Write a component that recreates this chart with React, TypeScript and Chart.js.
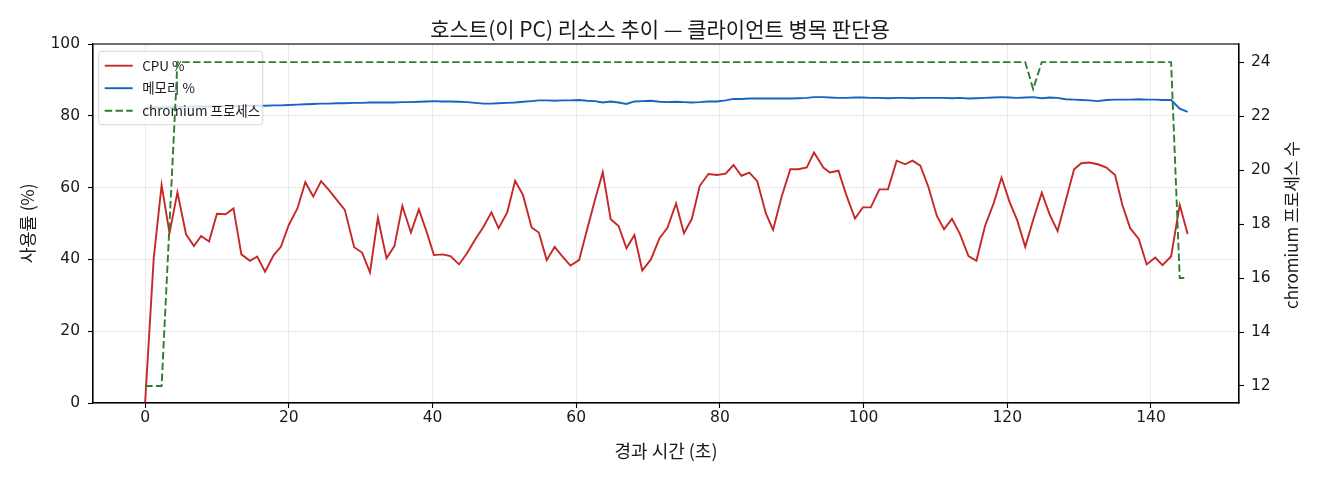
import { useEffect, useRef } from 'react';
import { Chart, registerables } from 'chart.js';

Chart.register(...registerables);

// elapsed seconds of each sample
const times = [
  0, 1.2, 2.3, 3.4, 4.5, 5.7, 6.8, 7.8, 8.9, 10.0,
  11.2, 12.3, 13.4, 14.6, 15.6, 16.7, 17.9, 18.9, 20.0, 21.2,
  22.3, 23.4, 24.5, 25.6, 26.7, 27.8, 29.1, 30.2, 31.3, 32.4,
  33.6, 34.7, 35.8, 37.0, 38.1, 39.2, 40.2, 41.4, 42.5, 43.7,
  44.8, 45.9, 47.1, 48.2, 49.2, 50.4, 51.5, 52.6, 53.8, 54.8,
  55.9, 57.0, 58.1, 59.2, 60.4, 61.5, 62.6, 63.7, 64.8, 65.9,
  67.0, 68.1, 69.2, 70.4, 71.6, 72.7, 73.9, 75.0, 76.1, 77.2,
  78.4, 79.6, 80.8, 81.9, 83.0, 84.1, 85.2, 86.4, 87.4, 88.6,
  89.8, 90.9, 92.1, 93.1, 94.4, 95.3, 96.5, 97.6, 98.8, 99.9,
  101.0, 102.2, 103.4, 104.6, 105.8, 106.8, 107.9, 109.0, 110.2, 111.2,
  112.3, 113.4, 114.6, 115.7, 116.9, 118.1, 119.2, 120.3, 121.4, 122.5,
  123.6, 124.8, 125.9, 127.0, 128.1, 129.3, 130.3, 131.4, 132.6, 133.8,
  135.0, 136.0, 137.1, 138.3, 139.4, 140.6, 141.6, 142.8, 144.0, 145.1,
];

const cpuPct = [
  0, 40.3, 60.7, 47.3, 58.7, 47.0, 43.7, 46.5, 45.0, 52.7,
  52.6, 54.2, 41.4, 39.6, 40.8, 36.6, 41.2, 43.5, 49.6, 54.2,
  61.5, 57.5, 61.8, 59.3, 56.5, 53.8, 43.4, 41.9, 36.4, 51.6,
  40.3, 43.7, 54.9, 47.5, 53.9, 47.6, 41.2, 41.4, 40.9, 38.6,
  41.7, 45.4, 49.1, 53.1, 48.7, 53.1, 61.9, 57.9, 48.9, 47.5,
  39.8, 43.5, 40.8, 38.3, 39.8, 48.2, 56.5, 64.3, 51.2, 49.3,
  43.1, 46.8, 36.9, 40.0, 45.9, 48.8, 55.6, 47.3, 51.3, 60.5,
  63.8, 63.5, 63.9, 66.3, 63.3, 64.2, 61.8, 52.8, 48.2, 57.5,
  65.1, 65.1, 65.6, 69.8, 65.6, 64.2, 64.7, 57.9, 51.4, 54.5,
  54.5, 59.5, 59.5, 67.5, 66.5, 67.5, 66.1, 60.3, 52.1, 48.4,
  51.3, 47.1, 40.9, 39.6, 49.3, 55.6, 62.8, 56.1, 50.8, 43.5,
  51.0, 58.6, 52.5, 47.9, 56.1, 65.1, 66.8, 67.0, 66.5, 65.6,
  63.5, 55.3, 48.7, 45.7, 38.6, 40.5, 38.4, 40.8, 55.2, 47.1,
];

const memPct = [
  82.2, 82.3, 82.4, 82.4, 82.5, 82.5, 82.6, 82.6, 82.6, 82.7,
  82.7, 82.7, 82.8, 82.8, 82.8, 82.8, 82.9, 82.9, 83.0, 83.1,
  83.2, 83.3, 83.4, 83.4, 83.5, 83.5, 83.6, 83.6, 83.7, 83.7,
  83.7, 83.7, 83.8, 83.8, 83.9, 84.0, 84.1, 84.0, 84.0, 83.9,
  83.8, 83.6, 83.4, 83.4, 83.5, 83.6, 83.7, 83.9, 84.1, 84.3,
  84.3, 84.2, 84.3, 84.3, 84.4, 84.2, 84.1, 83.7, 84.0, 83.7,
  83.3, 84.0, 84.1, 84.2, 83.9, 83.8, 83.9, 83.8, 83.7, 83.8,
  84.0, 84.0, 84.3, 84.7, 84.7, 84.8, 84.8, 84.8, 84.8, 84.8,
  84.8, 84.9, 85.0, 85.2, 85.2, 85.1, 85.0, 85.0, 85.1, 85.1,
  85.0, 85.0, 84.9, 85.0, 85.0, 84.9, 85.0, 85.0, 85.0, 85.0,
  84.9, 85.0, 84.8, 84.9, 85.0, 85.1, 85.2, 85.1, 85.0, 85.1,
  85.2, 84.9, 85.1, 85.0, 84.6, 84.5, 84.4, 84.3, 84.1, 84.4,
  84.5, 84.5, 84.5, 84.6, 84.5, 84.5, 84.4, 84.4, 82.0, 81.1,
];

const chromiumProcs = [
  12, 12, 12, 18, 24, 24, 24, 24, 24, 24,
  24, 24, 24, 24, 24, 24, 24, 24, 24, 24,
  24, 24, 24, 24, 24, 24, 24, 24, 24, 24,
  24, 24, 24, 24, 24, 24, 24, 24, 24, 24,
  24, 24, 24, 24, 24, 24, 24, 24, 24, 24,
  24, 24, 24, 24, 24, 24, 24, 24, 24, 24,
  24, 24, 24, 24, 24, 24, 24, 24, 24, 24,
  24, 24, 24, 24, 24, 24, 24, 24, 24, 24,
  24, 24, 24, 24, 24, 24, 24, 24, 24, 24,
  24, 24, 24, 24, 24, 24, 24, 24, 24, 24,
  24, 24, 24, 24, 24, 24, 24, 24, 24, 24,
  23, 24, 24, 24, 24, 24, 24, 24, 24, 24,
  24, 24, 24, 24, 24, 24, 24, 24, 16, 16,
];

const leftTicks = [0, 20, 40, 60, 80, 100];
const rightTicks = [12, 14, 16, 18, 20, 22, 24];

const FONT = '"DejaVu Sans", "Noto Sans CJK KR", sans-serif';
const KFONT = '"Noto Sans CJK KR", "DejaVu Sans", sans-serif';
const RED = '#c62828';
const BLUE = '#1565c0';
const GREEN = '#2e7d32';
const GRID = 'rgba(176,176,176,0.32)';
const TEXT = '#1a1a1a';

const legendItems = [
  { label: 'CPU %', color: RED, dash: [] as number[] },
  { label: '메모리 %', color: BLUE, dash: [] as number[] },
  { label: 'chromium 프로세스', color: GREEN, dash: [7.5, 3.3] },
];

// legend sits between the left-axis lines and the twin-axis line
const insideLegend = {
  id: 'insideLegend',
  afterDatasetDraw(chart: any, args: any) {
    if (args.index !== 1) return;
    const { ctx, chartArea } = chart;
    const x = chartArea.left + 5.7;
    const y = chartArea.top + 7.3;
    const w = 164;
    const h = 73.4;
    ctx.save();
    ctx.beginPath();
    ctx.roundRect(x, y, w, h, 3);
    ctx.fillStyle = 'rgba(255,255,255,0.8)';
    ctx.fill();
    ctx.strokeStyle = 'rgba(204,204,204,0.8)';
    ctx.lineWidth = 1;
    ctx.stroke();
    legendItems.forEach((it, i) => {
      const ly = y + 14.4 + i * 22.5;
      ctx.beginPath();
      ctx.setLineDash(it.dash);
      ctx.strokeStyle = it.color;
      ctx.lineWidth = 1.9;
      ctx.moveTo(x + 6, ly);
      ctx.lineTo(x + 34, ly);
      ctx.stroke();
      ctx.setLineDash([]);
      ctx.fillStyle = TEXT;
      ctx.font = `13.5px ${KFONT}`;
      ctx.textBaseline = 'middle';
      ctx.textAlign = 'left';
      ctx.fillText(it.label, x + 43.5, ly);
    });
    ctx.restore();
  },
};

const frameAndRightTitle = {
  id: 'frameAndRightTitle',
  afterDraw(chart: any) {
    const { ctx, chartArea } = chart;
    ctx.save();
    ctx.strokeStyle = '#000';
    ctx.lineWidth = 1.1;
    ctx.strokeRect(chartArea.left, chartArea.top, chartArea.right - chartArea.left, chartArea.bottom - chartArea.top);
    ctx.translate(1292, (chartArea.top + chartArea.bottom) / 2 + 1.5);
    ctx.rotate(-Math.PI / 2);
    ctx.fillStyle = TEXT;
    ctx.font = `17px ${KFONT}`;
    ctx.textAlign = 'center';
    ctx.textBaseline = 'middle';
    ctx.fillText('chromium 프로세스 수', 0, 0);
    ctx.restore();
  },
};

export default function App() {
  const canvasRef = useRef<HTMLCanvasElement>(null);

  useEffect(() => {
    if (!canvasRef.current) return;

    const chart = new Chart(canvasRef.current, {
      type: 'line',
      data: {
        datasets: [
          {
            label: 'CPU %',
            data: times.map((t, i) => ({ x: t, y: cpuPct[i] })),
            yAxisID: 'y',
            borderColor: RED,
            borderWidth: 1.9,
            pointRadius: 0,
            tension: 0,
            order: 2,
          },
          {
            label: '메모리 %',
            data: times.map((t, i) => ({ x: t, y: memPct[i] })),
            yAxisID: 'y',
            borderColor: BLUE,
            borderWidth: 1.9,
            pointRadius: 0,
            tension: 0,
            order: 1,
          },
          {
            label: 'chromium 프로세스',
            data: times.map((t, i) => ({ x: t, y: chromiumProcs[i] })),
            yAxisID: 'y2',
            borderColor: GREEN,
            borderWidth: 1.9,
            borderDash: [7.5, 3.3],
            pointRadius: 0,
            tension: 0,
            order: 0,
          },
        ],
      },
      options: {
        responsive: true,
        maintainAspectRatio: false,
        animation: false,
        layout: { padding: 0 },
        plugins: {
          legend: { display: false },
          tooltip: { enabled: false },
          title: {
            display: true,
            text: '호스트(이 PC) 리소스 추이 — 클라이언트 병목 판단용',
            color: TEXT,
            font: { family: KFONT, size: 21, weight: 'normal', lineHeight: 1.2 },
            padding: { top: 16.4, bottom: 2.4 },
          },
        },
        scales: {
          x: {
            type: 'linear',
            min: -7.25,
            max: 152.25,
            afterFit: (s: any) => { s.height = 77; },
            ticks: {
              stepSize: 20,
              includeBounds: false,
              color: TEXT,
              padding: 1,
              maxRotation: 0,
              font: { family: FONT, size: 15.5 },
            },
            grid: { color: GRID, lineWidth: 0.8, tickColor: '#000', tickLength: 5, tickWidth: 1.1 },
            border: { color: '#000', width: 1.1 },
            title: {
              display: true,
              text: '경과 시간 (초)',
              color: TEXT,
              font: { family: KFONT, size: 18, lineHeight: 1.2 },
              padding: { top: 0, bottom: 18.2 },
            },
          },
          y: {
            position: 'left',
            min: 0,
            max: 100,
            afterFit: (s: any) => { s.width = 93; },
            afterBuildTicks: (s: any) => { s.ticks = leftTicks.map(v => ({ value: v })); },
            ticks: {
              color: TEXT,
              padding: 8,
              font: { family: FONT, size: 15.5 },
            },
            grid: { color: GRID, lineWidth: 0.8, tickColor: '#000', tickLength: 5, tickWidth: 1.1 },
            border: { color: '#000', width: 1.1 },
            title: {
              display: true,
              text: '사용률 (%)',
              color: TEXT,
              font: { family: KFONT, size: 17.5, lineHeight: 1.2 },
              padding: { top: 16.5, bottom: 0 },
            },
          },
          y2: {
            position: 'right',
            min: 11.37,
            max: 24.67,
            afterFit: (s: any) => { s.width = 81; },
            afterBuildTicks: (s: any) => { s.ticks = rightTicks.map(v => ({ value: v })); },
            ticks: {
              color: TEXT,
              padding: 7,
              font: { family: FONT, size: 15.5 },
            },
            grid: { drawOnChartArea: false, tickColor: '#000', tickLength: 5, tickWidth: 1.1 },
            border: { color: '#000', width: 1.1 },
          },
        },
      },
      plugins: [insideLegend, frameAndRightTitle],
    });

    return () => {
      chart.destroy();
    };
  }, []);

  return (
    <div style={{ position: 'fixed', left: 0, top: 0, width: 1320, height: 480, background: '#fff' }}>
      <canvas ref={canvasRef} />
    </div>
  );
}
